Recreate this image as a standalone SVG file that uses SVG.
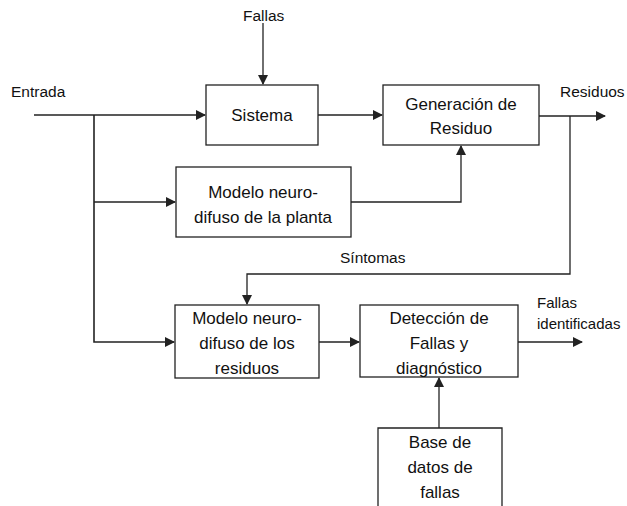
<svg xmlns="http://www.w3.org/2000/svg" width="627" height="506" viewBox="0 0 627 506">
<style>
.box{fill:#fff;stroke:#222;stroke-width:1.3}
.ln{fill:none;stroke:#222;stroke-width:1.3}
text{font-family:"Liberation Sans",Arial,sans-serif;font-size:17px;fill:#111;text-anchor:middle}
.lb{font-size:15.5px;text-anchor:start}
.sm{font-size:15px;text-anchor:start}
</style>
<defs>
<marker id="ah" markerWidth="10" markerHeight="10" refX="9" refY="5" orient="auto" markerUnits="userSpaceOnUse">
<path d="M0,0 L10,5 L0,10 Z" fill="#222"/>
</marker>
</defs>
<rect width="627" height="506" fill="#fff"/>
<g id="connectors">
<path class="ln" d="M263,23 V84" marker-end="url(#ah)"/>
<path class="ln" d="M34,115 H205" marker-end="url(#ah)"/>
<path class="ln" d="M94,115 V342 H174" marker-end="url(#ah)" style="stroke-width:1.6"/>
<path class="ln" d="M94,202 H175" marker-end="url(#ah)"/>
<path class="ln" d="M318,115 H382" marker-end="url(#ah)"/>
<path class="ln" d="M351,202 H461 V146" marker-end="url(#ah)"/>
<path class="ln" d="M539,116 H605" marker-end="url(#ah)"/>
<path class="ln" d="M570,116 V274 H247 V304" marker-end="url(#ah)"/>
<path class="ln" d="M319,342 H359" marker-end="url(#ah)"/>
<path class="ln" d="M518,342 H582" marker-end="url(#ah)"/>
<path class="ln" d="M439,428 V378" marker-end="url(#ah)"/>
</g>
<g id="labels">
<text class="lb" x="243" y="21">Fallas</text>
<text class="lb" x="11" y="97">Entrada</text>
<text class="lb" x="560" y="97">Residuos</text>
<text class="lb" x="340" y="263">Síntomas</text>
<text class="sm" x="537" y="308">Fallas</text>
<text class="sm" x="537" y="329">identificadas</text>
</g>
<g id="sistema">
<rect class="box" x="206" y="85" width="112" height="60"/>
<text x="262" y="121">Sistema</text>
</g>
<g id="generacion">
<rect class="box" x="383" y="85" width="156" height="60"/>
<text x="461" y="110">Generación de</text>
<text x="461" y="134">Residuo</text>
</g>
<g id="modelo-planta">
<rect class="box" x="176" y="167" width="175" height="70"/>
<text x="263" y="198">Modelo neuro-</text>
<text x="263" y="223">difuso de la planta</text>
</g>
<g id="modelo-residuos">
<rect class="box" x="175" y="305" width="144" height="73"/>
<text x="247" y="324">Modelo neuro-</text>
<text x="247" y="349">difuso de los</text>
<text x="247" y="374">residuos</text>
</g>
<g id="deteccion">
<rect class="box" x="360" y="305" width="158" height="72"/>
<text x="439" y="324">Detección de</text>
<text x="439" y="349">Fallas y</text>
<text x="439" y="374">diagnóstico</text>
</g>
<g id="base-datos">
<path class="ln" d="M378,507 V428 H502 V507"/>
<text x="440" y="448">Base de</text>
<text x="440" y="473">datos de</text>
<text x="440" y="498">fallas</text>
</g>
</svg>
